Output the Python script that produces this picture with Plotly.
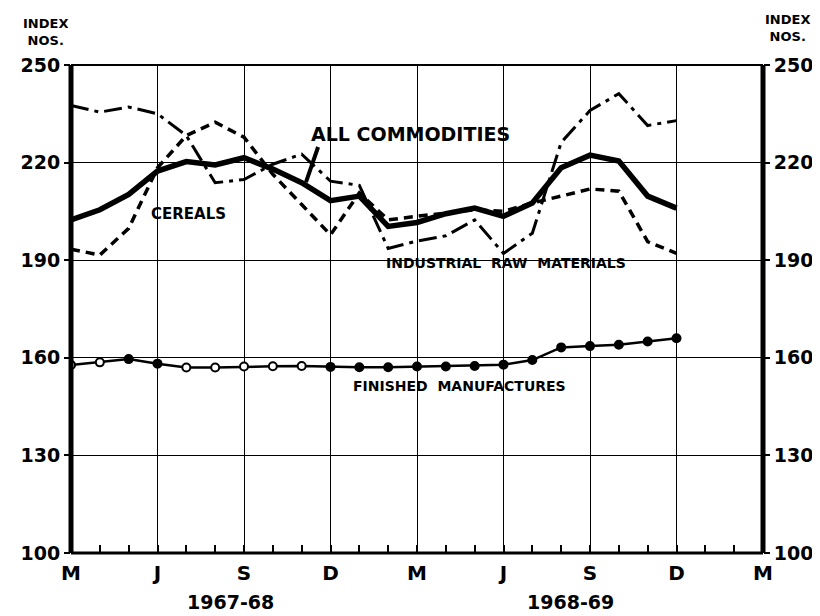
import plotly.graph_objects as go

# Month index: 0 = March 1967 ... 21 = December 1968
months = list(range(22))
tick_pos = [0, 3, 6, 9, 12, 15, 18, 21, 24]
tick_text = ["M", "J", "S", "D", "M", "J", "S", "D", "M"]
y_ticks = [100, 130, 160, 190, 220, 250]

all_commodities = [202.4, 205.5, 210.2, 217.4, 220.3, 219.3, 221.5, 218.0, 213.8, 208.3, 209.7,
                   200.4, 201.6, 204.3, 206.0, 203.5, 207.6, 218.4, 222.3, 220.5, 209.7, 206.0]
cereals = [193.4, 191.6, 199.8, 218.4, 228.3, 232.4, 227.8, 216.4, 207.1, 197.8, 210.7,
           202.4, 203.5, 204.5, 205.5, 205.0, 207.6, 209.7, 211.9, 211.2, 195.7, 192.1]
industrial = [237.6, 235.5, 237.1, 235.0, 228.3, 213.8, 214.8, 219.5, 222.6, 214.3, 213.0,
              193.6, 195.9, 197.5, 202.4, 192.1, 198.3, 226.2, 236.0, 241.2, 231.4, 232.9]
finished = [157.8, 158.6, 159.6, 158.2, 157.0, 157.0, 157.3, 157.4, 157.5, 157.2, 157.1,
            157.1, 157.3, 157.3, 157.5, 157.9, 159.3, 163.2, 163.6, 164.0, 165.0, 166.0]
finished_open = [1, 1, 0, 0, 1, 1, 1, 1, 1, 0, 0, 0, 0, 0, 0, 0, 0, 0, 0, 0, 0, 0]

FONT = "DejaVu Sans"

fig = go.Figure()
fig.add_trace(go.Scatter(x=months, y=industrial, mode="lines",
                         line=dict(color="black", width=3, dash="18px,6px,4px,6px"),
                         name="Industrial raw materials"))
fig.add_trace(go.Scatter(x=months, y=cereals, mode="lines",
                         line=dict(color="black", width=3.5, dash="9px,6px"),
                         name="Cereals"))
fig.add_trace(go.Scatter(x=months, y=all_commodities, mode="lines",
                         line=dict(color="black", width=5.5),
                         name="All commodities"))
fig.add_trace(go.Scatter(x=months, y=finished, mode="lines+markers",
                         line=dict(color="black", width=2.5),
                         marker=dict(size=8, symbol="circle",
                                     color=["white" if o else "black" for o in finished_open],
                                     line=dict(color="black", width=2)),
                         name="Finished manufactures"))
# invisible trace for the right axis
fig.add_trace(go.Scatter(x=[0], y=[100], yaxis="y2", mode="markers",
                         marker=dict(opacity=0), showlegend=False, hoverinfo="skip"))

fig.update_layout(
    width=820, height=616,
    margin=dict(l=63, r=65, t=57, b=71),
    paper_bgcolor="white", plot_bgcolor="white",
    showlegend=False,
    font=dict(family=FONT, color="black", size=14, weight="bold"),
    xaxis=dict(range=[0, 24], tickvals=tick_pos, ticktext=tick_text,
               showgrid=True, gridcolor="black", gridwidth=1,
               ticks="", showline=False, zeroline=False, ticklabelstandoff=6,
               tickfont=dict(size=20, family=FONT, weight="bold"),
               minor=dict(dtick=1, tick0=0, ticks="inside", ticklen=8,
                          tickcolor="black", tickwidth=1.5, showgrid=False)),
    yaxis=dict(range=[100, 250], tickvals=y_ticks,
               showgrid=True, gridcolor="black", gridwidth=1,
               ticks="outside", ticklen=6, tickwidth=2, tickcolor="black",
               showline=False, zeroline=False,
               tickfont=dict(size=19, family=FONT, weight="bold")),
    yaxis2=dict(range=[100, 250], tickvals=y_ticks, overlaying="y", side="right",
                showgrid=False, ticks="outside", ticklen=6, tickwidth=2, tickcolor="black",
                showline=False, zeroline=False,
                tickfont=dict(size=19, family=FONT, weight="bold")),
)

# frame
fig.add_shape(type="line", xref="paper", yref="paper", x0=0, x1=0, y0=0, y1=1,
              line=dict(color="black", width=5))
fig.add_shape(type="line", xref="paper", yref="paper", x0=1, x1=1, y0=0, y1=1,
              line=dict(color="black", width=5))
fig.add_shape(type="line", xref="paper", yref="paper", x0=0, x1=1, y0=0, y1=0,
              line=dict(color="black", width=3))
fig.add_shape(type="line", xref="paper", yref="paper", x0=0, x1=1, y0=1, y1=1,
              line=dict(color="black", width=2))

# pointer for ALL COMMODITIES
fig.add_shape(type="line", x0=8.57, y0=224.8, x1=8.15, y1=214.0,
              line=dict(color="black", width=4))

ann = [
    dict(text="ALL COMMODITIES", x=402, y=126, size=19),
    dict(text="CEREALS", x=180, y=206, size=15),
    dict(text="INDUSTRIAL  RAW  MATERIALS", x=498, y=255, size=14),
    dict(text="FINISHED  MANUFACTURES", x=451, y=378, size=14),
    dict(text="1967-68", x=222, y=594, size=19),
    dict(text="1968-69", x=562, y=594, size=19),
    dict(text="INDEX<br>NOS.", x=37, y=24, size=13),
    dict(text="INDEX<br>NOS.", x=779, y=20, size=13),
]
for a in ann:
    fig.add_annotation(text=a["text"], xref="paper", yref="paper",
                       x=(a["x"] - 63) / (755 - 63), y=1 - (a["y"] - 57) / (545 - 57),
                       xanchor="center", yanchor="middle", showarrow=False,
                       font=dict(size=a["size"], family=FONT, color="black", weight="bold"))

fig.write_html("out.html")
